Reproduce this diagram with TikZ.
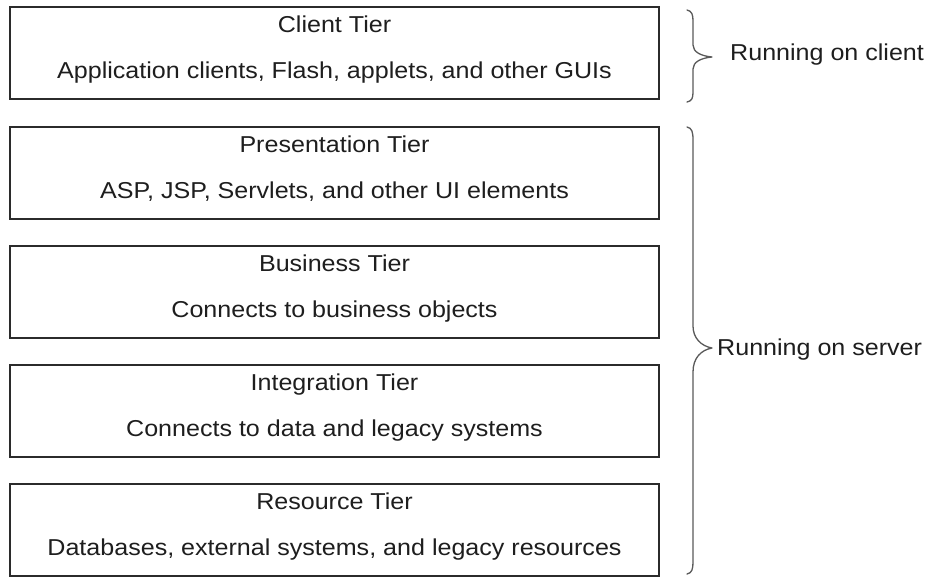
\documentclass[tikz,border=0pt]{standalone}
\usepackage{fontspec}
\setmainfont{Liberation Sans}[FakeStretch=1.09]
\definecolor{edge}{HTML}{2B2B2B}
\definecolor{ink}{HTML}{1E1E1E}
\definecolor{bracegray}{HTML}{5A5A5A}
\begin{document}
\begin{tikzpicture}[x=1pt,y=-1pt,
  tier/.style={draw=edge,line width=2.2pt,minimum width=649pt,minimum height=92pt,inner sep=0pt},
  tiertext/.style={anchor=base,text=ink,font=\fontsize{23}{27}\selectfont,inner sep=0pt},
  sidetext/.style={anchor=base west,text=ink,font=\fontsize{23}{27}\selectfont,inner sep=0pt},
  bracket/.style={draw=bracegray,line width=1.3pt,line cap=round,line join=round}]
\useasboundingbox (0,0) rectangle (936,576);
\fill[white] (0,0) rectangle (936,576);

% the five tiers
\node[tier] (client) at (334.5,53) {};
\node[tier] (pres)   at (334.5,173) {};
\node[tier] (bus)    at (334.5,292) {};
\node[tier] (integ)  at (334.5,411) {};
\node[tier] (res)    at (334.5,530) {};

\node[tiertext] (clientT) at ([yshift=-26.5pt]client.north) {Client Tier};
\node[tiertext] (clientS) at ([yshift=-72.5pt]client.north) {Application clients, Flash, applets, and other GUIs};
\node[tiertext] (presT) at ([yshift=-26.5pt]pres.north) {Presentation Tier};
\node[tiertext] (presS) at ([yshift=-72.5pt]pres.north) {ASP, JSP, Servlets, and other UI elements};
\node[tiertext] (busT) at ([yshift=-26.5pt]bus.north) {Business Tier};
\node[tiertext] (busS) at ([yshift=-72.5pt]bus.north) {Connects to business objects};
\node[tiertext] (integT) at ([yshift=-26.5pt]integ.north) {Integration Tier};
\node[tiertext] (integS) at ([yshift=-72.5pt]integ.north) {Connects to data and legacy systems};
\node[tiertext] (resT) at ([yshift=-26.5pt]res.north) {Resource Tier};
\node[tiertext] (resS) at ([yshift=-72.5pt]res.north) {Databases, external systems, and legacy resources};

% brace around the client tier
\coordinate (c1) at (687,10);
\coordinate (c2) at (712,57);
\coordinate (c3) at (687,102);
\draw[bracket] (c1) .. controls (692,11) and (693,15) .. (693,21)
  -- (693,45) .. controls (693,52) and (701,56) .. (c2)
  .. controls (701,58) and (693,62) .. (693,69)
  -- (693,92) .. controls (693,98) and (692,101) .. (c3);

% brace around the server tiers
\coordinate (s1) at (687,127);
\coordinate (s2) at (712,348);
\coordinate (s3) at (687,574);
\draw[bracket] (s1) .. controls (692,128) and (693,132) .. (693,140)
  -- (693,326) .. controls (693,338) and (701,346) .. (s2)
  .. controls (701,350) and (693,358) .. (693,372)
  -- (693,562) .. controls (693,569) and (692,573) .. (s3);

\node[sidetext] (onclient) at (730,60) {Running on client};
\node[sidetext] (onserver) at (717,355) {Running on server};
\end{tikzpicture}
\end{document}
